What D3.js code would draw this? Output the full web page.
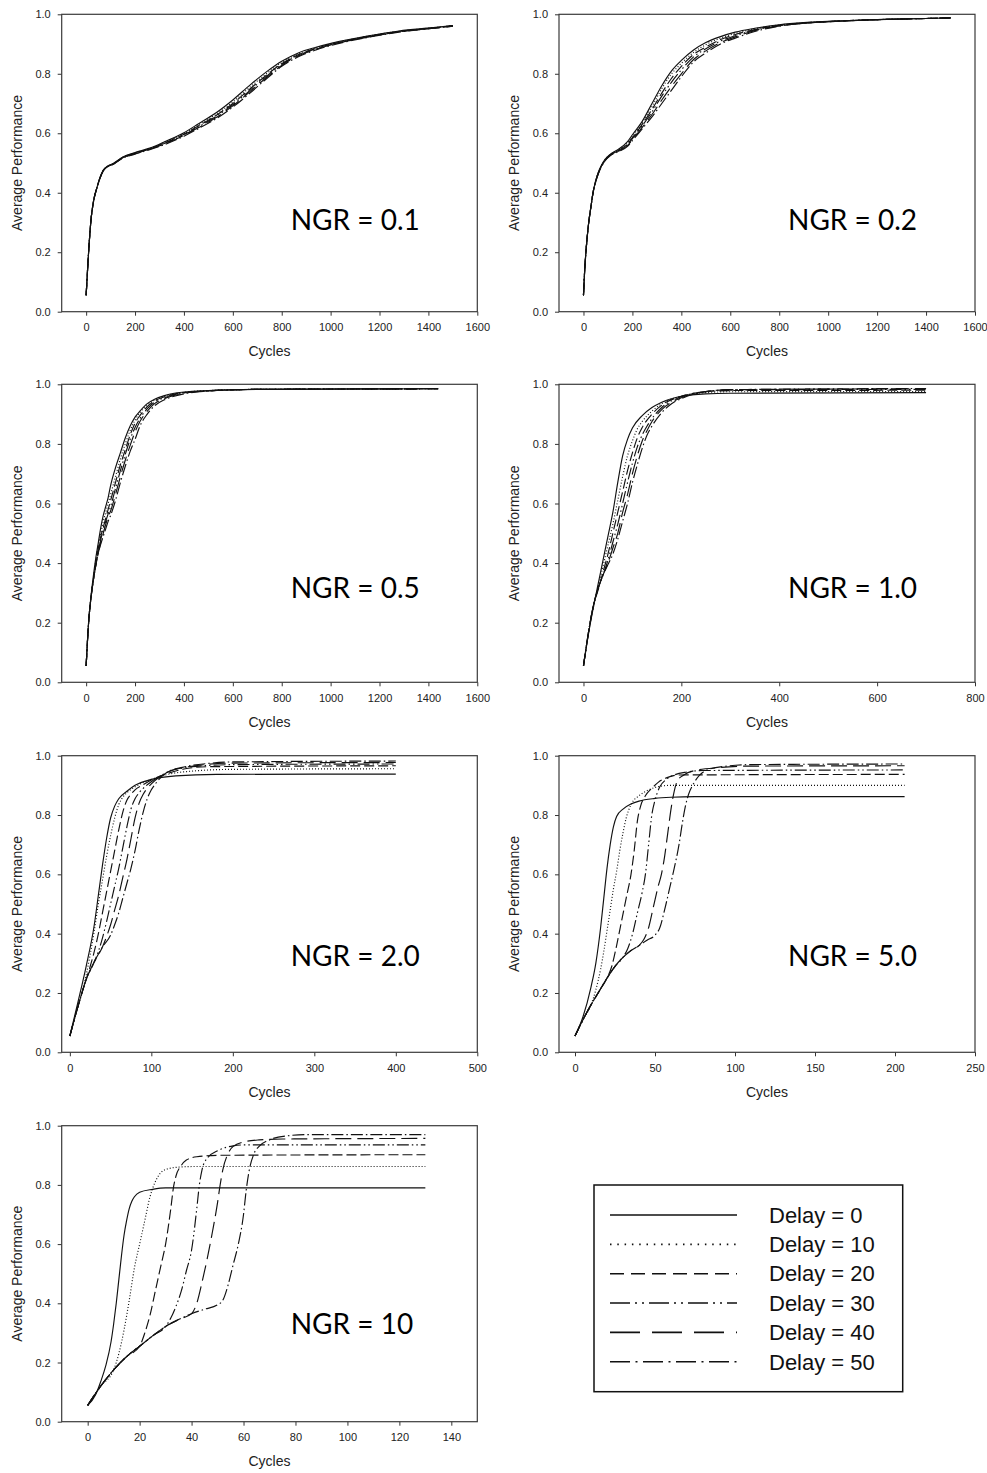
<!DOCTYPE html>
<html>
<head>
<meta charset="utf-8">
<script src="https://cdn.jsdelivr.net/npm/d3@7"></script>
<style>
  body { margin: 0; background: #fff; }
  svg { display: block; }
</style>
</head>
<body>
<svg id="chart" width="987" height="1473"></svg>
<script>
// ---- Data: average performance vs. cycles, one series per delay ----
const delays = [0, 10, 20, 30, 40, 50];
const legendLabels = delays.map(d => "Delay = " + d);
const panelLabels = ["NGR = 0.1", "NGR = 0.2", "NGR = 0.5", "NGR = 1.0", "NGR = 2.0", "NGR = 5.0", "NGR = 10"];
const perfTicks = [0, 0.2, 0.4, 0.6, 0.8, 1.0];

// NGR = 0.1
const perfNGR01 = [
  [[0,.055],[10,.2],[20,.31],[30,.37],[45,.42],[57,.452],[70,.476],[85,.488],[112,.499],[150,.52],[200,.535],[260,.55],[330,.575],[400,.602],[460,.632],[530,.668],[600,.712],[670,.762],[740,.808],[800,.842],[870,.871],[940,.889],[1010,.904],[1150,.927],[1280,.944],[1420,.955],[1500,.962]],
  [[0,.055],[10,.2],[20,.31],[30,.37],[45,.42],[57,.451],[70,.475],[85,.487],[112,.498],[150,.519],[200,.534],[260,.549],[330,.573],[400,.599],[460,.628],[530,.663],[600,.705],[670,.755],[740,.802],[800,.838],[870,.868],[940,.887],[1010,.902],[1150,.926],[1280,.943],[1420,.955],[1500,.962]],
  [[0,.055],[10,.2],[20,.31],[30,.37],[45,.42],[57,.451],[70,.475],[85,.487],[112,.498],[150,.518],[200,.533],[260,.548],[330,.571],[400,.597],[460,.625],[530,.659],[600,.7],[670,.749],[740,.797],[800,.834],[870,.865],[940,.885],[1010,.901],[1150,.925],[1280,.942],[1420,.954],[1500,.961]],
  [[0,.055],[10,.2],[20,.31],[30,.37],[45,.419],[57,.45],[70,.474],[85,.486],[112,.497],[150,.518],[200,.532],[260,.547],[330,.569],[400,.595],[460,.622],[530,.656],[600,.696],[670,.744],[740,.793],[800,.831],[870,.863],[940,.884],[1010,.9],[1150,.924],[1280,.942],[1420,.954],[1500,.961]],
  [[0,.055],[10,.2],[20,.31],[30,.37],[45,.419],[57,.45],[70,.474],[85,.486],[112,.497],[150,.517],[200,.531],[260,.546],[330,.567],[400,.593],[460,.619],[530,.652],[600,.692],[670,.74],[740,.789],[800,.828],[870,.861],[940,.882],[1010,.899],[1150,.923],[1280,.941],[1420,.953],[1500,.96]],
  [[0,.055],[10,.2],[20,.31],[30,.37],[45,.418],[57,.449],[70,.473],[85,.485],[112,.496],[150,.516],[200,.53],[260,.545],[330,.565],[400,.59],[460,.616],[530,.648],[600,.688],[670,.735],[740,.785],[800,.825],[870,.858],[940,.88],[1010,.897],[1150,.922],[1280,.94],[1420,.953],[1500,.96]]
];

// NGR = 0.2
const perfNGR02 = [
  [[0,.055],[5,.14],[10,.2],[20,.29],[30,.35],[40,.405],[50,.44],[60,.467],[72,.49],[86,.51],[110,.53],[140,.545],[180,.572],[200,.595],[240,.64],[280,.7],[320,.76],[360,.81],[400,.845],[450,.88],[500,.905],[560,.925],[620,.94],[700,.953],[800,.965],[900,.972],[1000,.976],[1200,.982],[1400,.986],[1500,.988]],
  [[0,.055],[5,.14],[10,.2],[20,.29],[30,.35],[40,.405],[50,.44],[60,.466],[72,.489],[86,.509],[110,.529],[140,.543],[180,.568],[200,.59],[240,.635],[280,.69],[320,.75],[360,.8],[400,.835],[450,.872],[500,.898],[560,.92],[620,.936],[700,.951],[800,.964],[900,.971],[1000,.976],[1200,.982],[1400,.986],[1500,.988]],
  [[0,.055],[5,.14],[10,.2],[20,.29],[30,.35],[40,.405],[50,.439],[60,.465],[72,.488],[86,.508],[110,.528],[140,.541],[180,.565],[200,.585],[240,.63],[280,.68],[320,.735],[360,.785],[400,.825],[450,.865],[500,.89],[560,.915],[620,.932],[700,.949],[800,.963],[900,.971],[1000,.976],[1200,.982],[1400,.986],[1500,.988]],
  [[0,.055],[5,.14],[10,.2],[20,.29],[30,.35],[40,.404],[50,.438],[60,.464],[72,.487],[86,.507],[110,.527],[140,.54],[180,.562],[200,.582],[240,.625],[280,.672],[320,.725],[360,.772],[400,.813],[450,.857],[500,.884],[560,.91],[620,.928],[700,.947],[800,.962],[900,.97],[1000,.975],[1200,.982],[1400,.986],[1500,.988]],
  [[0,.055],[5,.14],[10,.2],[20,.29],[30,.35],[40,.404],[50,.437],[60,.463],[72,.486],[86,.506],[110,.526],[140,.538],[180,.559],[200,.578],[240,.62],[280,.663],[320,.712],[360,.758],[400,.8],[450,.848],[500,.877],[560,.905],[620,.924],[700,.945],[800,.961],[900,.97],[1000,.975],[1200,.982],[1400,.986],[1500,.988]],
  [[0,.055],[5,.14],[10,.2],[20,.29],[30,.35],[40,.403],[50,.436],[60,.462],[72,.485],[86,.505],[110,.525],[140,.537],[180,.556],[200,.575],[240,.615],[280,.655],[320,.7],[360,.745],[400,.79],[450,.84],[500,.87],[560,.9],[620,.92],[700,.942],[800,.96],[900,.97],[1000,.975],[1200,.982],[1400,.986],[1500,.988]]
];

// NGR = 0.5
const perfNGR05 = [
  [[0,.055],[10,.2],[20,.29],[30,.36],[40,.42],[50,.47],[60,.52],[70,.56],[80,.59],[90,.62],[100,.66],[120,.72],[140,.77],[160,.82],[180,.86],[200,.89],[220,.91],[250,.935],[280,.95],[320,.962],[360,.97],[400,.974],[500,.979],[700,.983],[1440,.985]],
  [[0,.055],[10,.2],[20,.285],[30,.35],[40,.41],[50,.46],[60,.5],[70,.54],[80,.57],[90,.6],[100,.63],[120,.69],[140,.75],[160,.8],[180,.845],[200,.88],[220,.905],[250,.93],[280,.947],[320,.96],[360,.968],[400,.973],[500,.979],[700,.983],[1440,.985]],
  [[0,.055],[10,.2],[20,.285],[30,.345],[40,.4],[50,.45],[60,.49],[70,.52],[80,.55],[90,.58],[100,.61],[120,.67],[140,.73],[160,.78],[180,.83],[200,.87],[220,.895],[250,.925],[280,.944],[320,.958],[360,.967],[400,.972],[500,.978],[700,.983],[1440,.985]],
  [[0,.055],[10,.2],[20,.285],[30,.345],[40,.395],[50,.44],[60,.48],[70,.51],[80,.54],[90,.565],[100,.59],[120,.65],[140,.71],[160,.765],[180,.815],[200,.855],[220,.885],[250,.918],[280,.94],[320,.955],[360,.965],[400,.971],[500,.978],[700,.983],[1440,.985]],
  [[0,.055],[10,.2],[20,.285],[30,.345],[40,.395],[50,.435],[60,.47],[70,.5],[80,.53],[90,.555],[100,.575],[120,.63],[140,.69],[160,.745],[180,.795],[200,.84],[220,.875],[250,.91],[280,.935],[320,.952],[360,.963],[400,.97],[500,.978],[700,.983],[1440,.985]],
  [[0,.055],[10,.2],[20,.285],[30,.345],[40,.395],[50,.435],[60,.465],[70,.49],[80,.515],[90,.54],[100,.56],[120,.61],[140,.67],[160,.725],[180,.775],[200,.815],[220,.86],[250,.9],[280,.928],[320,.948],[360,.96],[400,.968],[500,.977],[700,.983],[1440,.985]]
];

// NGR = 1.0
const perfNGR1 = [
  [[0,.055],[10,.16],[20,.25],[30,.33],[40,.41],[50,.49],[60,.57],[70,.67],[80,.76],[90,.815],[100,.853],[120,.895],[140,.922],[160,.94],[200,.96],[250,.968],[300,.97],[700,.972]],
  [[0,.055],[10,.165],[20,.25],[30,.32],[40,.39],[50,.46],[60,.53],[70,.61],[80,.69],[90,.76],[100,.81],[110,.85],[120,.875],[140,.91],[160,.935],[200,.96],[250,.972],[300,.975],[700,.976]],
  [[0,.055],[10,.165],[20,.255],[30,.31],[40,.37],[50,.43],[60,.5],[70,.57],[80,.64],[90,.71],[100,.77],[110,.82],[120,.855],[140,.9],[160,.93],[200,.96],[250,.975],[300,.979],[700,.98]],
  [[0,.055],[10,.165],[20,.255],[30,.315],[40,.36],[50,.41],[60,.47],[70,.53],[80,.6],[90,.67],[100,.735],[110,.79],[120,.83],[130,.86],[140,.885],[160,.922],[200,.958],[250,.976],[300,.981],[700,.983]],
  [[0,.055],[10,.165],[20,.255],[30,.315],[40,.36],[50,.4],[60,.45],[70,.5],[80,.57],[90,.63],[100,.7],[110,.76],[120,.81],[130,.845],[140,.875],[160,.915],[200,.955],[250,.976],[300,.982],[700,.985]],
  [[0,.055],[10,.165],[20,.255],[30,.315],[40,.36],[50,.395],[60,.43],[70,.48],[80,.54],[90,.6],[100,.67],[110,.73],[120,.785],[130,.83],[140,.86],[160,.905],[180,.935],[200,.952],[250,.975],[300,.982],[700,.986]]
];

// NGR = 2.0
const perfNGR2 = [
  [[0,.055],[10,.17],[20,.29],[30,.43],[35,.53],[40,.63],[45,.72],[50,.79],[55,.83],[60,.855],[70,.88],[80,.9],[100,.92],[130,.932],[180,.937],[400,.938]],
  [[0,.055],[10,.155],[15,.2],[20,.26],[25,.33],[30,.41],[35,.5],[40,.58],[45,.66],[50,.73],[55,.79],[60,.835],[65,.86],[70,.875],[80,.895],[100,.92],[120,.937],[150,.948],[200,.954],[400,.956]],
  [[0,.055],[10,.155],[20,.245],[25,.29],[30,.34],[35,.4],[40,.47],[45,.54],[50,.61],[55,.68],[60,.75],[65,.81],[70,.85],[75,.87],[80,.885],[90,.902],[100,.918],[120,.94],[140,.955],[170,.963],[400,.966]],
  [[0,.055],[10,.155],[20,.245],[30,.305],[35,.34],[40,.385],[45,.44],[50,.5],[55,.56],[60,.62],[65,.69],[70,.76],[75,.82],[80,.855],[85,.875],[90,.89],[100,.912],[110,.93],[125,.95],[150,.963],[200,.97],[400,.972]],
  [[0,.055],[10,.155],[20,.245],[30,.305],[40,.355],[45,.39],[50,.43],[55,.48],[60,.53],[65,.59],[70,.65],[75,.72],[80,.79],[85,.84],[90,.87],[95,.89],[100,.905],[110,.928],[120,.945],[140,.96],[170,.971],[200,.975],[400,.977]],
  [[0,.055],[10,.155],[20,.245],[30,.305],[40,.355],[50,.395],[55,.43],[60,.47],[65,.52],[70,.57],[75,.62],[80,.68],[85,.75],[90,.81],[95,.855],[100,.885],[105,.905],[110,.922],[120,.945],[140,.962],[170,.974],[200,.979],[400,.982]]
];

// NGR = 5.0
const perfNGR5 = [
  [[0,.055],[5,.12],[10,.22],[13,.3],[16,.42],[18,.52],[20,.62],[22,.7],[24,.76],[26,.795],[30,.82],[35,.837],[40,.847],[50,.856],[60,.86],[75,.862],[206,.862]],
  [[0,.055],[5,.11],[10,.16],[13,.21],[16,.28],[18,.34],[20,.41],[22,.48],[24,.55],[26,.61],[28,.68],[30,.74],[32,.79],[35,.835],[40,.865],[45,.882],[50,.893],[60,.9],[206,.9]],
  [[0,.055],[5,.11],[10,.16],[15,.205],[20,.25],[23,.29],[26,.36],[29,.44],[32,.52],[35,.6],[37,.68],[39,.78],[41,.83],[44,.865],[48,.89],[52,.91],[58,.927],[65,.935],[206,.937]],
  [[0,.055],[5,.11],[10,.16],[15,.205],[20,.25],[25,.29],[30,.32],[33,.35],[36,.4],[39,.47],[42,.54],[44,.6],[46,.7],[48,.8],[50,.85],[53,.895],[57,.92],[62,.935],[70,.945],[80,.95],[206,.952]],
  [[0,.055],[5,.11],[10,.16],[15,.205],[20,.25],[25,.29],[30,.32],[35,.343],[40,.36],[43,.38],[46,.42],[49,.49],[52,.56],[54,.6],[56,.66],[58,.74],[60,.82],[62,.88],[64,.915],[68,.935],[75,.95],[90,.96],[110,.965],[206,.966]],
  [[0,.055],[5,.11],[10,.16],[15,.205],[20,.25],[25,.29],[30,.32],[35,.343],[40,.36],[45,.378],[50,.395],[53,.42],[56,.48],[59,.55],[62,.62],[65,.7],[67,.77],[69,.83],[71,.87],[74,.905],[78,.935],[84,.955],[95,.965],[110,.97],[206,.972]]
];

// NGR = 10
const perfNGR10 = [
  [[0,.055],[3,.09],[5,.135],[7,.19],[9,.27],[10,.33],[11,.4],[12,.48],[13,.56],[14,.63],[15,.68],[16,.72],[17,.745],[18,.76],[20,.775],[25,.785],[30,.79],[130,.79]],
  [[0,.055],[5,.12],[10,.175],[12,.23],[14,.31],[16,.41],[18,.52],[20,.6],[22,.68],[24,.76],[26,.81],[28,.84],[30,.852],[35,.86],[40,.862],[130,.862]],
  [[0,.055],[5,.12],[10,.175],[15,.22],[20,.255],[22,.3],[24,.36],[26,.44],[28,.52],[30,.6],[32,.72],[33,.79],[34,.83],[36,.865],[38,.884],[42,.895],[50,.9],[130,.902]],
  [[0,.055],[5,.12],[10,.175],[15,.22],[20,.255],[25,.29],[30,.322],[32,.35],[34,.39],[36,.44],[38,.51],[40,.58],[42,.72],[43,.8],[44,.85],[46,.89],[50,.915],[56,.932],[60,.935],[130,.935]],
  [[0,.055],[5,.12],[10,.175],[15,.22],[20,.255],[25,.29],[30,.322],[35,.345],[40,.365],[42,.4],[44,.47],[46,.55],[48,.64],[50,.74],[51,.8],[52,.85],[54,.905],[56,.93],[60,.945],[66,.952],[75,.955],[130,.957]],
  [[0,.055],[5,.12],[10,.175],[15,.22],[20,.255],[25,.29],[30,.322],[35,.345],[40,.365],[45,.38],[50,.395],[52,.41],[54,.46],[56,.53],[58,.6],[60,.7],[61,.78],[62,.84],[64,.905],[66,.93],[70,.952],[76,.965],[85,.97],[130,.97]]
];

// Cycle axes for each panel
const cycleDomains = [[-100,1600],[-100,1600],[-100,1600],[-50,800],[-10,500],[-10,250],[-10,150]];
const cycleTicks = [
  [0,200,400,600,800,1000,1200,1400,1600],
  [0,200,400,600,800,1000,1200,1400,1600],
  [0,200,400,600,800,1000,1200,1400,1600],
  [0,200,400,600,800],
  [0,100,200,300,400,500],
  [0,50,100,150,200,250],
  [0,20,40,60,80,100,120,140]
];
const panelData = [perfNGR01, perfNGR02, perfNGR05, perfNGR1, perfNGR2, perfNGR5, perfNGR10];

// ---- Layout and styles ----
const colX = [[61.7, 477.3], [559, 975]];
const rowY = [[14.3, 311.7], [384.3, 682.3], [755.7, 1052.3], [1125.7, 1421.7]];
const labelDy = [216, 214, 210, 208];
const plotDash = [null, "1,2", "10,4", "12,3,1.5,3,1.5,3", "16,6", "12,3,1.5,3"];
const legendDash = [null, "1.5,5.8", "14,7", "20,5,2,5,2,5", "30,12", "20,5.5,2,5.5"];

const svg = d3.select("#chart");
const axisFont = "'Liberation Sans', Arial, sans-serif";

panelData.forEach((series, i) => {
  const col = i % 2, row = Math.floor(i / 2);
  const [x0, x1] = colX[col];
  const [y0, y1] = rowY[row];

  const x = d3.scaleLinear().domain(cycleDomains[i]).range([x0, x1]);
  const y = d3.scaleLinear().domain([0, 1]).range([y1, y0]);

  const g = svg.append("g");

  // axes
  const xAxis = d3.axisBottom(x).tickValues(cycleTicks[i]).tickSize(4).tickSizeOuter(0).tickPadding(8).tickFormat(d3.format("d"));
  const yAxis = d3.axisLeft(y).tickValues(perfTicks).tickSize(4).tickSizeOuter(0).tickPadding(7).tickFormat(d3.format(".1f"));

  const gx = g.append("g").attr("transform", `translate(0,${y1})`).call(xAxis);
  const gy = g.append("g").attr("transform", `translate(${x0},0)`).call(yAxis);
  [gx, gy].forEach(a => {
    a.select(".domain").remove();
    a.selectAll("line").attr("stroke", "#333").attr("stroke-width", 1);
    a.selectAll("text").attr("font-family", axisFont).attr("font-size", 11).attr("fill", "#222");
  });

  // frame
  g.append("rect")
    .attr("x", x0).attr("y", y0)
    .attr("width", x1 - x0).attr("height", y1 - y0)
    .attr("fill", "none").attr("stroke", "#3a3a3a").attr("stroke-width", 1.2);

  // axis titles
  g.append("text")
    .attr("x", (x0 + x1) / 2).attr("y", y1 + 44.5)
    .attr("text-anchor", "middle")
    .attr("font-family", axisFont).attr("font-size", 14).attr("fill", "#222")
    .text("Cycles");
  g.append("text")
    .attr("transform", `translate(${x0 - 40},${(y0 + y1) / 2}) rotate(-90)`)
    .attr("text-anchor", "middle")
    .attr("font-family", axisFont).attr("font-size", 14).attr("fill", "#222")
    .text("Average Performance");

  // curves
  const line = d3.line()
    .x(d => x(d[0]))
    .y(d => y(d[1]))
    .curve(d3.curveMonotoneX);

  series.forEach((pts, k) => {
    g.append("path")
      .attr("d", line(pts))
      .attr("fill", "none")
      .attr("stroke", "#111")
      .attr("stroke-width", 1.15)
      .attr("stroke-dasharray", plotDash[k]);
  });

  // panel label
  g.append("text")
    .attr("x", x0 + 229).attr("y", y0 + labelDy[row])
    .attr("font-family", "Lato, 'Open Sans', sans-serif")
    .attr("font-size", 28)
    .attr("fill", "#000")
    .text(panelLabels[i]);
});

// ---- Legend ----
const legend = svg.append("g");
legend.append("rect")
  .attr("x", 594).attr("y", 1185)
  .attr("width", 308.7).attr("height", 206.7)
  .attr("fill", "#fff").attr("stroke", "#111").attr("stroke-width", 1.5);

const legendRow = d3.scalePoint().domain(delays).range([1215, 1361.7]);
delays.forEach((d, k) => {
  const yy = legendRow(d);
  legend.append("line")
    .attr("x1", 610).attr("x2", 737)
    .attr("y1", yy).attr("y2", yy)
    .attr("stroke", "#111").attr("stroke-width", 1.6)
    .attr("stroke-dasharray", legendDash[k]);
  legend.append("text")
    .attr("x", 769).attr("y", yy + 7.8)
    .attr("font-family", axisFont).attr("font-size", 22).attr("fill", "#111")
    .text(legendLabels[k]);
});
</script>
</body>
</html>
